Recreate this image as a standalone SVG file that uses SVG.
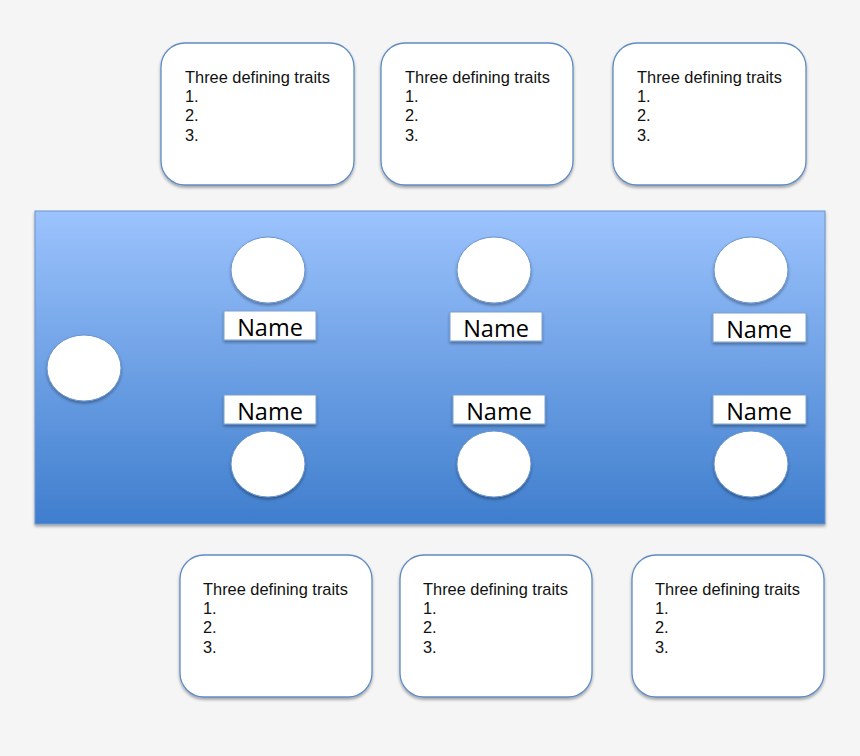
<svg xmlns="http://www.w3.org/2000/svg" width="860" height="756" viewBox="0 0 860 756">
<defs>
<linearGradient id="bg" x1="0" y1="0" x2="0" y2="1">
<stop offset="0" stop-color="#9cc3fd"/>
<stop offset="1" stop-color="#3f7ecd"/>
</linearGradient>
<filter id="sh" x="-20%" y="-20%" width="140%" height="150%">
<feDropShadow dx="0" dy="2" stdDeviation="1.5" flood-color="#000" flood-opacity="0.35"/>
</filter>
</defs>
<style>
.card{fill:#fff;stroke:#5f8cc4;stroke-width:1.3;filter:url(#sh)}
.t{font-family:"Liberation Sans",Arial,sans-serif;font-size:16.4px;fill:#111}
.c{fill:#fff;stroke:#6a95cc;stroke-width:1;filter:url(#sh)}
.n{fill:#fff;stroke:#7aa0d0;stroke-width:1;filter:url(#sh)}
.nt{font-family:"Open Sans","Liberation Sans",sans-serif;font-size:23.5px;fill:#000;text-anchor:middle}
</style>
<rect width="860" height="756" fill="#f5f5f5"/>
<g id="table">
<rect x="35" y="211" width="790" height="313" fill="url(#bg)" stroke="#6a94cc" stroke-width="1" filter="url(#sh)"/>
</g>
<g id="card-top-1"><rect class="card" x="161" y="43" width="193" height="142" rx="24"/>
<text class="t" x="185" y="83">Three defining traits</text><text class="t" x="185" y="102">1.</text><text class="t" x="185" y="121">2.</text><text class="t" x="185" y="141">3.</text></g>
<g id="card-top-2"><rect class="card" x="381" y="43" width="192" height="142" rx="24"/>
<text class="t" x="405" y="83">Three defining traits</text><text class="t" x="405" y="102">1.</text><text class="t" x="405" y="121">2.</text><text class="t" x="405" y="141">3.</text></g>
<g id="card-top-3"><rect class="card" x="613" y="43" width="193" height="142" rx="24"/>
<text class="t" x="637" y="83">Three defining traits</text><text class="t" x="637" y="102">1.</text><text class="t" x="637" y="121">2.</text><text class="t" x="637" y="141">3.</text></g>
<g id="card-bot-1"><rect class="card" x="180" y="555" width="192" height="142" rx="24"/>
<text class="t" x="203" y="595">Three defining traits</text><text class="t" x="203" y="614">1.</text><text class="t" x="203" y="633">2.</text><text class="t" x="203" y="653">3.</text></g>
<g id="card-bot-2"><rect class="card" x="400" y="555" width="192" height="142" rx="24"/>
<text class="t" x="423" y="595">Three defining traits</text><text class="t" x="423" y="614">1.</text><text class="t" x="423" y="633">2.</text><text class="t" x="423" y="653">3.</text></g>
<g id="card-bot-3"><rect class="card" x="632" y="555" width="192" height="142" rx="24"/>
<text class="t" x="655" y="595">Three defining traits</text><text class="t" x="655" y="614">1.</text><text class="t" x="655" y="633">2.</text><text class="t" x="655" y="653">3.</text></g>
<g id="seat-head"><ellipse class="c" cx="84" cy="368" rx="37" ry="33"/></g>
<g id="seat-t1"><ellipse class="c" cx="268" cy="270" rx="37" ry="33"/><rect class="n" x="224" y="311" width="92" height="29"/><text class="nt" x="270" y="336">Name</text></g>
<g id="seat-t2"><ellipse class="c" cx="494" cy="270" rx="37" ry="33"/><rect class="n" x="450" y="312" width="92" height="29"/><text class="nt" x="496" y="337">Name</text></g>
<g id="seat-t3"><ellipse class="c" cx="751" cy="270" rx="37" ry="33"/><rect class="n" x="713" y="313" width="93" height="29"/><text class="nt" x="759" y="338">Name</text></g>
<g id="seat-b1"><rect class="n" x="224" y="395" width="92" height="29"/><text class="nt" x="270" y="420">Name</text><ellipse class="c" cx="268" cy="464" rx="37" ry="33"/></g>
<g id="seat-b2"><rect class="n" x="453" y="395" width="92" height="29"/><text class="nt" x="499" y="420">Name</text><ellipse class="c" cx="494" cy="464" rx="37" ry="33"/></g>
<g id="seat-b3"><rect class="n" x="713" y="395" width="93" height="29"/><text class="nt" x="759" y="420">Name</text><ellipse class="c" cx="751" cy="464" rx="37" ry="33"/></g>
<g id="connectors"/>
</svg>
